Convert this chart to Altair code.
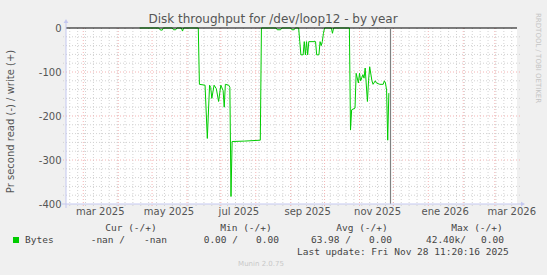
import altair as alt
import pandas as pd

# ---------------- data ----------------
read_dates = [
    "2025-04-20", "2025-05-07", "2025-05-08", "2025-05-10", "2025-05-11",
    "2025-05-19", "2025-05-20", "2025-05-22", "2025-05-23", "2025-05-27",
    "2025-05-28", "2025-05-29", "2025-06-11", "2025-06-12", "2025-06-17",
    "2025-06-19", "2025-06-21", "2025-06-22", "2025-06-23", "2025-06-25",
    "2025-06-27", "2025-06-29", "2025-07-01", "2025-07-03", "2025-07-04",
    "2025-07-05", "2025-07-08", "2025-07-09", "2025-07-10", "2025-07-11",
    "2025-07-22", "2025-08-05", "2025-08-06", "2025-08-19", "2025-08-20",
    "2025-08-23", "2025-08-24", "2025-09-01", "2025-09-02", "2025-09-04",
    "2025-09-05", "2025-09-08", "2025-09-09", "2025-09-10", "2025-09-12",
    "2025-09-13", "2025-09-14", "2025-09-15", "2025-09-16", "2025-09-17",
    "2025-09-23", "2025-09-24", "2025-09-26", "2025-09-27", "2025-09-28",
    "2025-09-29", "2025-09-30", "2025-10-01", "2025-10-07", "2025-10-08",
    "2025-10-09", "2025-10-23", "2025-10-24", "2025-10-25", "2025-10-28",
    "2025-10-29", "2025-10-31", "2025-11-01", "2025-11-02", "2025-11-04",
    "2025-11-05", "2025-11-06", "2025-11-08", "2025-11-09", "2025-11-10",
    "2025-11-12", "2025-11-13", "2025-11-15", "2025-11-16", "2025-11-19",
    "2025-11-22", "2025-11-23", "2025-11-24", "2025-11-25", "2025-11-26",
    "2025-11-27",
]
read_values = [
    0, 0, -4, -5, 0,
    0, -4, -4, 0, 0,
    -7, 0, 0, -128, -130,
    -251, -130, -135, -160, -130,
    -138, -167, -130, -142, -180,
    -128, -130, -135, -383, -258,
    -257, -255, 0, 0, -4,
    -4, 0, 0, -4, -4,
    0, 0, -31, -61, -61,
    -31, -61, -31, -61, -31,
    -31, -61, -61, -31, -40,
    -31, -12, 0, 0, -12,
    0, 0, -232, -186, -182,
    -103, -125, -103, -120, -106,
    -114, -91, -167, -120, -88,
    -120, -128, -120, -125, -128,
    -128, -120, -125, -141, -255,
    -148,
]
now_stamp = ["2025-11-28T11:20:16"]

x_label_dates = ["2025-03-16", "2025-05-16", "2025-07-17", "2025-09-16",
                 "2025-11-17", "2026-01-16", "2026-03-16"]
x_label_texts = ["mar 2025", "may 2025", "jul 2025", "sep 2025",
                 "nov 2025", "ene 2026", "mar 2026"]
y_tick_values = [0, -100, -200, -300, -400]

title_text = "Disk throughput for /dev/loop12 - by year"
y_title_text = "Pr second read (-) / write (+)"
series_name = "Bytes"
legend_headers = ["Cur (-/+)", "Min (-/+)", "Avg (-/+)", "Max (-/+)"]
legend_read = ["-nan /", "0.00 /", "63.98 /", "42.40k/"]
legend_write = ["-nan", "0.00", "0.00", "0.00"]
last_update_text = "Last update: Fri Nov 28 11:20:16 2025"
footer_text = "Munin 2.0.75"
watermark_text = "RRDTOOL / TOBI OETIKER"

# ---------------- layout ----------------
W, H = 451, 176
LEFT, TOP = 66, 28
GREEN = "#00cc00"
AXIS_BLUE = "#c4c8f0"
MAJOR = "#f4b4b4"
MINOR = "#d2d2d2"

x_scale = alt.Scale(
    domain=[alt.DateTime(year=2025, month=2, date=13, hours=16),
            alt.DateTime(year=2026, month=3, date=20, hours=16)],
    nice=False,
)
y_scale = alt.Scale(domain=[-400, 0], nice=False)
y_axis = alt.Axis(values=y_tick_values, labelExpr="'' + datum.value",
                  domain=False, ticks=False, grid=False,
                  labelFont="DejaVu Sans", labelFontSize=10,
                  labelColor="#555555", labelPadding=5,
                  title=y_title_text, titleFont="DejaVu Sans",
                  titleFontSize=10, titleFontWeight="normal",
                  titleColor="#555555", titleX=-56, titleY=93,
                  titleAngle=270, titleAlign="center",
                  titleBaseline="middle")

series = pd.DataFrame({"date": pd.to_datetime(read_dates), "value": read_values})
now_df = pd.DataFrame({"date": pd.to_datetime(now_stamp)})
xlab_df = pd.DataFrame({"date": pd.to_datetime(x_label_dates), "label": x_label_texts})

week_df = pd.DataFrame({"date": pd.date_range("2025-02-17", "2026-03-16", freq="W-MON")})
month_df = pd.DataFrame({"date": pd.date_range("2025-03-01", "2026-03-01", freq="MS")})
ymin_df = pd.DataFrame({"value": [v for v in range(-380, 0, 20) if v % 100 != 0]})
ymaj_df = pd.DataFrame({"value": [-100, -200, -300]})

dummy = alt.Data(values=[{"a": 1}])


def txt(s, x, y, size=9.5, font="DejaVu Sans Mono", color="#444444",
        align="left", angle=0):
    return alt.Chart(dummy).mark_text(
        fontSize=size, font=font, color=color, align=align,
        baseline="middle", angle=angle,
    ).encode(x=alt.value(x - LEFT), y=alt.value(y - TOP), text=alt.value(s))


grid_week = alt.Chart(week_df).mark_rule(
    color=MINOR, strokeWidth=1, strokeDash=[1, 2]
).encode(x=alt.X("date:T", scale=x_scale, axis=None),
         y=alt.value(0), y2=alt.value(H + 3))

grid_month = alt.Chart(month_df).mark_rule(
    color=MAJOR, strokeWidth=1, strokeDash=[1, 2]
).encode(x=alt.X("date:T", scale=x_scale, axis=None),
         y=alt.value(0), y2=alt.value(H + 3))

grid_ymin = alt.Chart(ymin_df).mark_rule(
    color=MINOR, strokeWidth=1, strokeDash=[1, 2]
).encode(y=alt.Y("value:Q", scale=y_scale, axis=y_axis),
         x=alt.value(-3), x2=alt.value(W + 3))

grid_ymaj = alt.Chart(ymaj_df).mark_rule(
    color=MAJOR, strokeWidth=1, strokeDash=[1, 2]
).encode(y=alt.Y("value:Q", scale=y_scale, axis=y_axis),
         x=alt.value(-3), x2=alt.value(W + 3))

line = alt.Chart(series).mark_line(color=GREEN, strokeWidth=1).encode(
    x=alt.X("date:T", scale=x_scale, axis=None),
    y=alt.Y("value:Q", scale=y_scale, axis=y_axis),
)

zero_line = alt.Chart(dummy).mark_rule(color="#000000", strokeWidth=1).encode(
    y=alt.value(0), x=alt.value(0), x2=alt.value(W)
)

now_line = alt.Chart(now_df).mark_rule(color="#808080", strokeWidth=1.2).encode(
    x=alt.X("date:T", scale=x_scale, axis=None), y=alt.value(0), y2=alt.value(H)
)

x_axis_line = alt.Chart(dummy).mark_rule(color=AXIS_BLUE, strokeWidth=1).encode(
    x=alt.value(-4), x2=alt.value(W + 5), y=alt.value(H)
)
y_axis_line = alt.Chart(dummy).mark_rule(color=AXIS_BLUE, strokeWidth=1).encode(
    y=alt.value(-6), y2=alt.value(H + 4), x=alt.value(0)
)
arrow_right = alt.Chart(dummy).mark_point(
    shape="triangle-right", filled=True, size=22, color=AXIS_BLUE, opacity=1
).encode(x=alt.value(W + 6), y=alt.value(H))
arrow_up = alt.Chart(dummy).mark_point(
    shape="triangle-up", filled=True, size=22, color=AXIS_BLUE, opacity=1
).encode(x=alt.value(0), y=alt.value(-7))

x_labels = alt.Chart(xlab_df).mark_text(
    font="DejaVu Sans", fontSize=10, color="#555555", baseline="middle"
).encode(x=alt.X("date:T", scale=x_scale, axis=None),
         y=alt.value(212 - TOP), text="label:N")

legend_swatch = alt.Chart(dummy).mark_rect(color=GREEN).encode(
    x=alt.value(13 - LEFT), x2=alt.value(19 - LEFT),
    y=alt.value(237 - TOP), y2=alt.value(243 - TOP)
)

texts = [
    txt(title_text, 273, 19, size=12, font="DejaVu Sans", color="#555555",
        align="center"),
    txt(watermark_text, 538, 13, size=7, font="DejaVu Sans", color="#c4c4c4",
        angle=90),
    txt(series_name, 25, 240),
    txt(last_update_text, 297, 252),
    txt(footer_text, 261, 264, size=7, font="DejaVu Sans", color="#c8c8c8",
        align="center"),
]
header_centers = [131, 246, 362, 477]
read_rights = [125, 238, 351, 466]
write_rights = [167, 279, 392, 504]
for i in range(4):
    texts.append(txt(legend_headers[i], header_centers[i], 228, align="center"))
    texts.append(txt(legend_read[i], read_rights[i], 240, align="right"))
    texts.append(txt(legend_write[i], write_rights[i], 240, align="right"))

chart = alt.layer(
    grid_week, grid_month, grid_ymin, grid_ymaj, line, zero_line, now_line,
    x_axis_line, y_axis_line, arrow_right, arrow_up, x_labels, legend_swatch,
    *texts,
).properties(
    width=W, height=H, background="#f0f0f0",
    padding={"left": LEFT, "top": TOP, "right": 547 - LEFT - W,
             "bottom": 275 - TOP - H},
    autosize=alt.AutoSizeParams(type="none"),
).configure_view(fill="white", strokeWidth=0)

chart.save("out.html", embed_options={"renderer": "svg", "actions": False})
